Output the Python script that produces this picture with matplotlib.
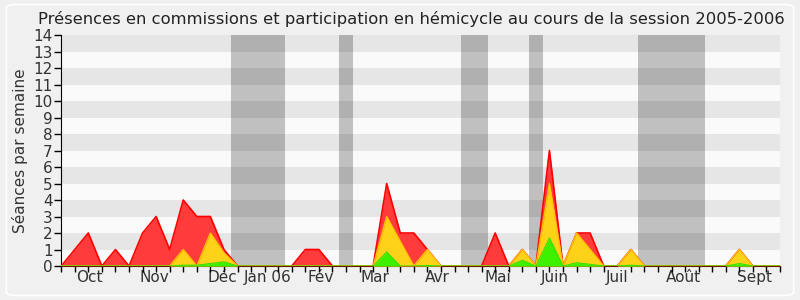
import numpy as np
import matplotlib
matplotlib.use('Agg')
import matplotlib.pyplot as plt
from matplotlib.patches import FancyBboxPatch

# weekly values, session 2005-2006 (week 0 = end of Sept 2005)
weeks = np.arange(54)
red = [0, 1, 2, 0, 1, 0, 2, 3, 1, 4, 3, 3, 1, 0, 0, 0, 0, 0, 1, 1,
       0, 0, 0, 0, 5, 2, 2, 1, 0, 0, 0, 0, 2, 0, 1, 0, 7, 0, 2, 2,
       0, 0, 1, 0, 0, 0, 0, 0, 0, 0, 1, 0, 0, 0]
yellow = [0, 0, 0, 0, 0, 0, 0, 0, 0, 1, 0, 2, 0.8, 0, 0, 0, 0, 0, 0, 0,
          0, 0, 0, 0, 3, 1.5, 0, 1, 0, 0, 0, 0, 0, 0, 1, 0, 5, 0, 2, 1,
          0, 0, 1, 0, 0, 0, 0, 0, 0, 0, 1, 0, 0, 0]
green = [0, 0, 0, 0, 0, 0, 0, 0, 0, 0.05, 0.05, 0.15, 0.25, 0, 0, 0, 0, 0, 0, 0,
         0, 0, 0, 0, 0.85, 0, 0, 0.03, 0, 0, 0, 0, 0, 0, 0.35, 0, 1.7, 0, 0.2, 0.1,
         0, 0, 0.05, 0, 0, 0, 0, 0, 0, 0, 0.15, 0, 0, 0]

# holidays (in weeks)
vacances = [(12.5, 16.5), (20.5, 21.5), (29.5, 31.5), (34.5, 35.5), (42.5, 47.5)]

month_labels = ['Oct', 'Nov', 'Déc', 'Jan 06', 'Fév', 'Mar', 'Avr', 'Mai', 'Juin', 'Juil', 'Août', 'Sept']
month_pos = [2.1, 6.9, 11.85, 15.2, 19.1, 23.1, 27.7, 32.2, 36.4, 41.0, 45.9, 51.1]

plt.rcParams['font.family'] = ['DejaVu Sans']

fig = plt.figure(figsize=(8, 3), dpi=100)
fig.patch.set_facecolor('#f0f0f0')
fig.patches.append(FancyBboxPatch((0.008, 0.015), 0.984, 0.97, boxstyle='round,pad=0,rounding_size=0.012',
                                  transform=fig.transFigure, facecolor='none', edgecolor='white', lw=1.2))

ax = fig.add_axes([0.0765, 0.1133, 0.8985, 0.77])
ax.set_facecolor('#fafafa')

# alternating horizontal bands
for k in range(1, 14, 2):
    ax.axhspan(k, k + 1, color='#e6e6e6', lw=0, zorder=0)

for a, b in vacances:
    ax.axvspan(a, b, color='black', alpha=0.23, lw=0, zorder=1)

ax.fill_between(weeks, red, color='#ff3b3b', lw=0, zorder=2)
ax.plot(weeks, red, color='#ff0000', lw=1.2, zorder=3)
ax.fill_between(weeks, yellow, color='#ffd21a', lw=0, zorder=4)
ax.plot(weeks, yellow, color='#ffc400', lw=1.0, zorder=5)
ax.fill_between(weeks, green, color='#3cf000', lw=0, zorder=6)
ax.plot(weeks, green, color='#33e000', lw=0.8, zorder=7)

ax.set_xlim(0, 53)
ax.set_ylim(0, 14)

ax.set_yticks(range(15))
ax.tick_params(axis='y', length=5, width=1, labelsize=11, labelcolor='#333333', pad=1)

ax.set_xticks(month_pos)
ax.set_xticklabels(month_labels)
ax.set_xticks(weeks, minor=True)
ax.tick_params(axis='x', which='major', length=0, labelsize=11, labelcolor='#333333', pad=3)
ax.tick_params(axis='x', which='minor', length=4, width=1)

for s in ['top', 'right']:
    ax.spines[s].set_visible(False)
ax.spines['bottom'].set_color('#6b1a00')
ax.spines['left'].set_color('black')

ax.set_ylabel('Séances par semaine', fontsize=11, color='#333333', labelpad=4)
fig.text(0.514, 0.937, 'Présences en commissions et participation en hémicycle au cours de la session 2005-2006',
         ha='center', va='center', fontsize=11.8, color='#222222')

plt.savefig('out.png', dpi=100, facecolor=fig.get_facecolor())
